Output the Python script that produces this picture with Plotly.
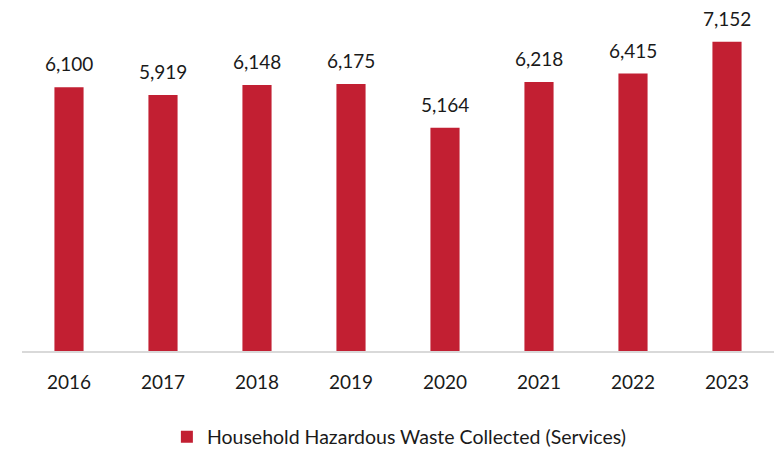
import plotly.graph_objects as go

years = ["2016", "2017", "2018", "2019", "2020", "2021", "2022", "2023"]
services = [6100, 5919, 6148, 6175, 5164, 6218, 6415, 7152]
series_name = "Household Hazardous Waste Collected (Services)"

BAR_RED = "#C21F32"
FONT = "Lato, 'Open Sans', sans-serif"

fig = go.Figure(
    go.Bar(
        x=years,
        y=services,
        name=series_name,
        marker=dict(color=BAR_RED, line=dict(width=0)),
        showlegend=True,
    )
)

# value labels above each bar (category axis: position by category index)
for idx, val in enumerate(services):
    fig.add_annotation(
        x=idx,
        y=val,
        xref="x",
        yref="y",
        text=f"{val:,}",
        showarrow=False,
        yanchor="bottom",
        yshift=10,
        font=dict(size=19, color="#1a1a1a", family=FONT),
    )

fig.update_layout(
    width=774,
    height=450,
    margin=dict(l=22, r=0, t=5, b=99, autoexpand=False),
    paper_bgcolor="white",
    plot_bgcolor="white",
    bargap=0.69,
    font=dict(family=FONT, size=18, color="#1a1a1a"),
    xaxis=dict(
        type="category",
        range=[-0.5, len(years) - 0.5],
        showline=True,
        linecolor="#d9d9d9",
        linewidth=1.5,
        showgrid=False,
        ticks="",
        ticklabelstandoff=13,
        tickfont=dict(size=19, color="#1a1a1a"),
    ),
    yaxis=dict(
        range=[0, 8000],
        visible=False,
        showgrid=False,
    ),
    legend=dict(
        orientation="h",
        x=0.516,
        xanchor="center",
        xref="container",
        y=1 - 437 / 450,
        yref="container",
        yanchor="middle",
        font=dict(size=19.5, color="#1a1a1a"),
    ),
)

fig.write_html("out.html")
